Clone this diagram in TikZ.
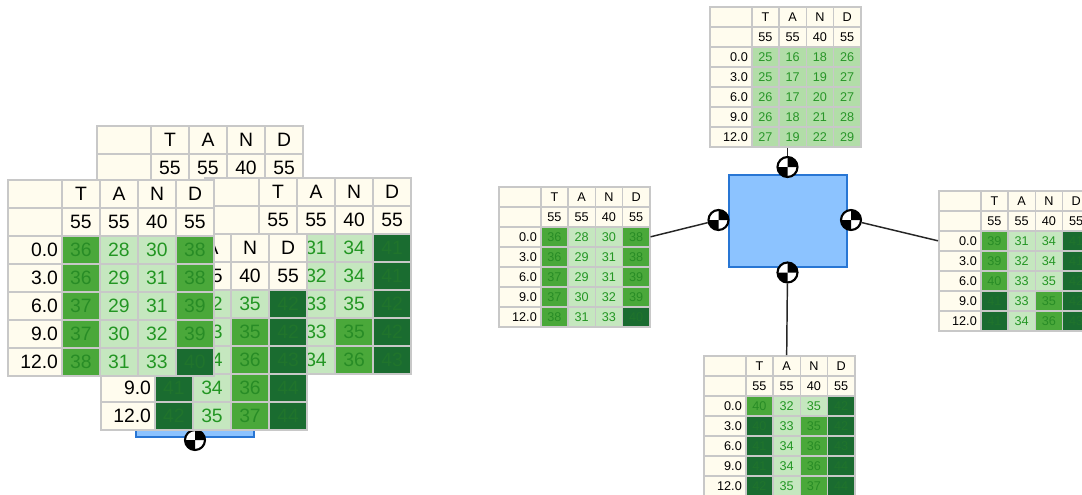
\documentclass[tikz,border=0pt]{standalone}
\usepackage{fontspec}
\setmainfont{Liberation Sans}
\definecolor{cream}{RGB}{255,252,238}
\definecolor{gridgray}{RGB}{200,200,200}
\definecolor{fp}{RGB}{178,221,168}
\definecolor{fl}{RGB}{197,231,191}
\definecolor{fm}{RGB}{74,168,58}
\definecolor{fd}{RGB}{26,108,48}
\definecolor{tp}{RGB}{40,150,40}
\definecolor{tl}{RGB}{35,150,35}
\definecolor{tm}{RGB}{40,140,38}
\definecolor{td}{RGB}{32,116,44}
\definecolor{boxfill}{RGB}{140,195,255}
\definecolor{boxline}{RGB}{40,118,212}
\tikzset
{
  tcell/.style={rectangle,anchor=north west,inner sep=0pt,draw=gridgray,line width=\gw,
    minimum height=\rh*0.75pt,font=\tfont},
  headcell/.style={tcell,fill=cream,minimum width=\cw*0.75pt},
  labcell/.style={tcell,fill=cream,minimum width=\lw*0.75pt,inner xsep=3pt,text width=\lwt pt,align=right},
  dcell/.style={tcell,minimum width=\cw*0.75pt,fill=f#1,text=t#1},
  bodybox/.style={draw=boxline,fill=boxfill,line width=1pt},
  cg/.style={circle,draw=black,fill=white,line width=1.6pt,minimum size=15pt,inner sep=0pt,
    path picture={
      \fill[black] (path picture bounding box.center) -- ++(0pt,9pt) arc[start angle=90,end angle=0,radius=9pt] -- cycle;
      \fill[black] (path picture bounding box.center) -- ++(0pt,-9pt) arc[start angle=270,end angle=180,radius=9pt] -- cycle;}},
  link/.style={draw=black!85,line width=1.1pt}
}
% label width, column width, row height (px), font, grid line
\newcommand\tablesize[5]{\def\lw{#1}\def\cw{#2}\def\rh{#3}\def\tfont{#4}\def\gw{#5}%
  \pgfmathsetmacro\lwt{#1*0.75-6}}
% name, x, y, rows
\newcommand\datatable[4]{%
  \begin{scope}[shift={(#2,#3)}]
    \node[labcell] (#1-0-0) at (0,0) {};
    \node[labcell] (#1-1-0) at (0,\rh) {};
    \foreach \h [count=\c] in {T,A,N,D}
      \node[headcell] (#1-0-\c) at ({\lw+(\c-1)*\cw},0) {\h};
    \foreach \h [count=\c] in {55,55,40,55}
      \node[headcell] (#1-1-\c) at ({\lw+(\c-1)*\cw},\rh) {\h};
    \foreach \t/\va/\ka/\vb/\kb/\vc/\kc/\vd/\kd [count=\r from 2] in #4 {
      \node[labcell] (#1-\r-0) at (0,{\r*\rh}) {\t};
      \node[dcell=\ka] (#1-\r-1) at (\lw,{\r*\rh}) {\va};
      \node[dcell=\kb] (#1-\r-2) at ({\lw+\cw},{\r*\rh}) {\vb};
      \node[dcell=\kc] (#1-\r-3) at ({\lw+2*\cw},{\r*\rh}) {\vc};
      \node[dcell=\kd] (#1-\r-4) at ({\lw+3*\cw},{\r*\rh}) {\vd};
    }
  \end{scope}}
\def\topdata{0.0/25/p/16/p/18/p/26/p,3.0/25/p/17/p/19/p/27/p,6.0/26/p/17/p/20/p/27/p,9.0/26/p/18/p/21/p/28/p,12.0/27/p/19/p/22/p/29/p}
\def\leftdata{0.0/36/m/28/l/30/l/38/m,3.0/36/m/29/l/31/l/38/m,6.0/37/m/29/l/31/l/39/m,9.0/37/m/30/l/32/l/39/m,12.0/38/m/31/l/33/l/40/d}
\def\rightdata{0.0/39/m/31/l/34/l/41/d,3.0/39/m/32/l/34/l/41/d,6.0/40/m/33/l/35/l/42/d,9.0/41/d/33/l/35/m/42/d,12.0/41/d/34/l/36/m/43/d}
\def\botdata{0.0/40/m/32/l/35/l/42/d,3.0/40/d/33/l/35/m/42/d,6.0/41/d/34/l/36/m/43/d,9.0/41/d/34/l/36/m/44/d,12.0/42/d/35/l/37/m/44/d}

\begin{document}
\begin{tikzpicture}[x=0.75pt,y=-0.75pt]
  \fill[white] (0,0) rectangle (1082,494);
  \clip (0,0) rectangle (1082,494);
  % zoomed cluster
  \draw[bodybox] (136,345) rectangle (254,437);
  \node[cg] (cgZoom) at (195,440) {};
  \tablesize{54}{38}{28}{\fontsize{14.5}{16}\selectfont}{1.5pt}
  \datatable{zTop}{96}{125}{\topdata}
  \datatable{zRight}{204}{177}{\rightdata}
  \datatable{zBot}{100}{233}{\botdata}
  \datatable{zLeft}{7}{179}{\leftdata}
  % body with its four tables
  \draw[bodybox] (729,175) rectangle (847,267);
  \tablesize{42}{27.25}{20}{\fontsize{9.5}{11}\selectfont}{1.2pt}
  \datatable{tTop}{709}{6}{\topdata}
  \datatable{tLeft}{498}{186}{\leftdata}
  \datatable{tRight}{938}{190}{\rightdata}
  \datatable{tBot}{703}{355}{\botdata}
  % markers
  \node[cg] (cgTop) at (787.5,167) {};
  \node[cg] (cgLeft) at (718.5,220) {};
  \node[cg] (cgRight) at (851,220) {};
  \node[cg] (cgBot) at (787.5,272.5) {};
  \draw[link] (cgTop) -- (cgTop |- tTop-6-2.south);
  \draw[link] (cgLeft) -- (tLeft-2-4.east);
  \draw[link] (cgRight) -- (tRight-2-0.west);
  \draw[link] (cgBot) -- (tBot-0-2.north);
\end{tikzpicture}
\end{document}
